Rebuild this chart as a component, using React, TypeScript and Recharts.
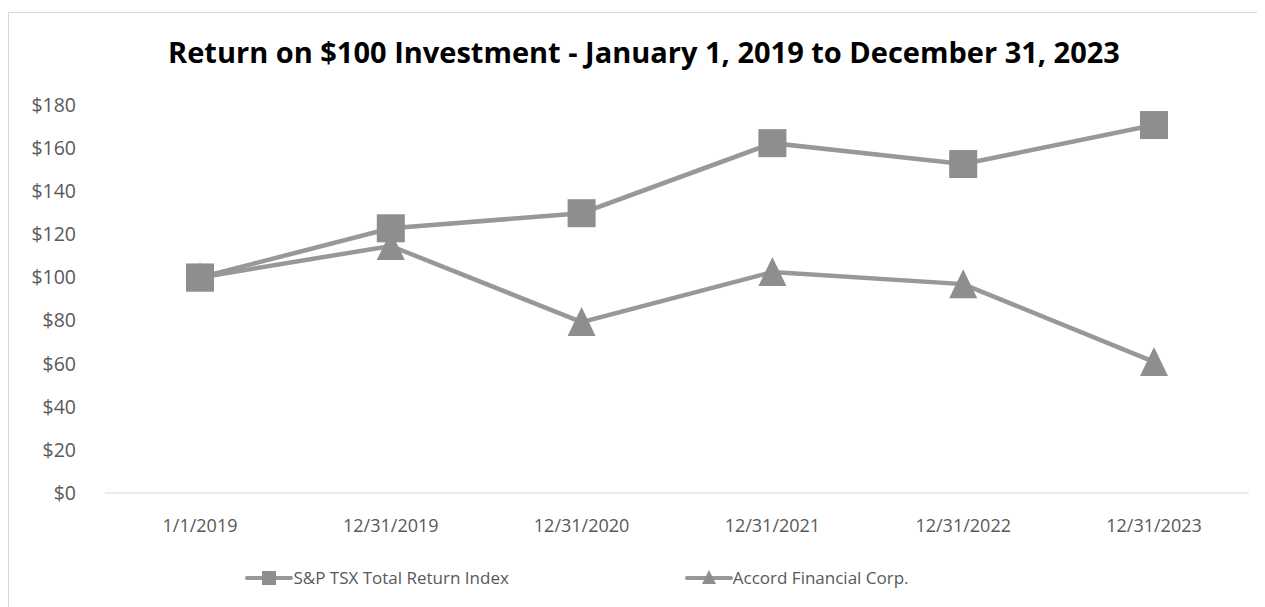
import { LineChart, Line, XAxis, YAxis, Legend } from 'recharts';

const dates = ['1/1/2019', '12/31/2019', '12/31/2020', '12/31/2021', '12/31/2022', '12/31/2023'];
const tsxValues = [100, 122.8, 129.8, 162.3, 152.6, 170.7];
const accordValues = [100, 114.6, 79.3, 102.5, 96.9, 60.8];
const yTicks = [0, 20, 40, 60, 80, 100, 120, 140, 160, 180];

const TSX_NAME = 'S&P TSX Total Return Index';
const ACCORD_NAME = 'Accord Financial Corp.';

const chartData = dates.map((d, i) => ({
  date: d,
  tsx: tsxValues[i],
  accord: accordValues[i],
}));

const LINE = '#989898';
const MARK = '#8e8e8e';
const FONT = '"Open Sans", Arial, sans-serif';

function SquareDot(props: any) {
  const { cx, cy } = props;
  if (cx == null || cy == null) return null;
  return <rect x={cx - 14} y={cy - 14} width={28} height={28} fill={MARK} />;
}

function TriangleDot(props: any) {
  const { cx, cy } = props;
  if (cx == null || cy == null) return null;
  return <polygon points={`${cx},${cy - 15} ${cx + 14},${cy + 14} ${cx - 14},${cy + 14}`} fill={MARK} />;
}

function LegendContent() {
  const items = [
    { name: TSX_NAME, shape: 'square' },
    { name: ACCORD_NAME, shape: 'triangle' },
  ];
  return (
    <div style={{ display: 'flex', justifyContent: 'center', gap: 176, paddingRight: 104, fontFamily: FONT, fontSize: 17, color: '#595959' }}>
      {items.map((it) => (
        <div key={it.name} style={{ display: 'flex', alignItems: 'center' }}>
          <svg width={48} height={20}>
            <line x1={2} y1={10} x2={46} y2={10} stroke={LINE} strokeWidth={4} strokeLinecap="round" />
            {it.shape === 'square'
              ? <rect x={17} y={3} width={14} height={14} fill={MARK} />
              : <polygon points="24,2 31,16 17,16" fill={MARK} />}
          </svg>
          <span>{it.name}</span>
        </div>
      ))}
    </div>
  );
}

export default function App() {
  return (
    <div style={{ position: 'relative', marginTop: 4, width: 1257, height: 595, border: '1px solid #d9d9d9', borderRight: 'none', background: '#fff' }}>
      <div
        style={{
          position: 'absolute', left: 0, top: 19, width: 1270, textAlign: 'center',
          fontFamily: FONT, fontWeight: 'bold', fontSize: 29, color: '#000',
        }}
      >
        Return on $100 Investment - January 1, 2019 to December 31, 2023
      </div>
      <LineChart width={1256} height={594} data={chartData} margin={{ top: 92, right: 16, left: 0, bottom: 0 }}>
        <XAxis
          dataKey="date"
          padding={{ left: 95, right: 95 }}
          axisLine={{ stroke: '#d9d9d9', strokeWidth: 1 }}
          tickLine={false}
          tickMargin={20}
          tick={{ fill: '#595959', fontSize: 18, fontFamily: FONT }}
          height={91}
        />
        <YAxis
          domain={[0, 180]}
          ticks={yTicks}
          width={96}
          axisLine={false}
          tickLine={false}
          tickMargin={23}
          tick={{ fill: '#595959', fontSize: 19.5, fontFamily: FONT }}
          tickFormatter={(v: number) => `$${v}`}
        />
        <Legend verticalAlign="bottom" content={<LegendContent />} wrapperStyle={{ bottom: 18 }} />
        <Line
          type="linear"
          dataKey="tsx"
          name={TSX_NAME}
          stroke={LINE}
          strokeWidth={4.5}
          dot={<SquareDot />}
          activeDot={false}
          isAnimationActive={false}
        />
        <Line
          type="linear"
          dataKey="accord"
          name={ACCORD_NAME}
          stroke={LINE}
          strokeWidth={4.5}
          dot={<TriangleDot />}
          activeDot={false}
          isAnimationActive={false}
        />
      </LineChart>
    </div>
  );
}
